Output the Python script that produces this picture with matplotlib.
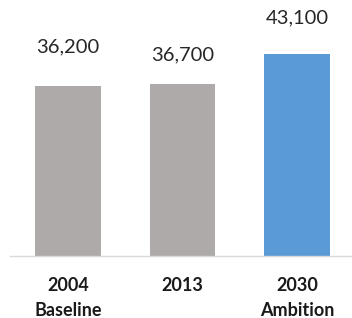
import matplotlib
matplotlib.use("Agg")
import matplotlib.pyplot as plt

categories = ["2004\nBaseline", "2013", "2030\nAmbition"]
values = [36200, 36700, 43100]
value_labels = ["36,200", "36,700", "43,100"]
colors = ["#ADAAA9", "#ADAAA9", "#5B9BD5"]
label_offsets_px = [31, 20, 27]

plt.rcParams['font.family'] = ['Lato', 'DejaVu Sans']

fig = plt.figure(figsize=(3.52, 3.18), dpi=100)
ax = fig.add_axes([10/352, 1 - 256/318, 342/352, 256/318])
x = list(range(len(values)))
bars = ax.bar(x, values, width=0.57, color=colors, zorder=2)
ax.set_xlim(-0.507, 2.48)
ax.set_ylim(0, 54500)

for xi, v, lab, off in zip(x, values, value_labels, label_offsets_px):
    ax.annotate(lab, (xi, v), xytext=(0, off * 0.72), textcoords="offset points",
                ha="center", va="bottom", fontsize=14.5, color="#262626")

for s in ["top", "right", "left"]:
    ax.spines[s].set_visible(False)
ax.spines["bottom"].set_color("#D9D9D9")
ax.spines["bottom"].set_linewidth(1.0)
ax.set_yticks([])
ax.set_xticks(x)
ax.set_xticklabels(categories, fontsize=13, fontweight="bold", color="#1a1a1a",
                   linespacing=1.55)
ax.tick_params(axis="x", length=0, pad=15)

fig.savefig("out.png", dpi=100)
